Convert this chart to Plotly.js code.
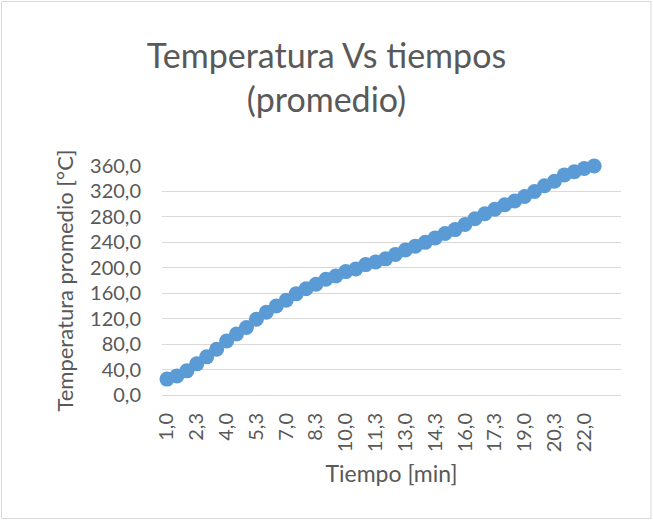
<!DOCTYPE html>
<html>
<head>
<meta charset="utf-8">
<script src="https://cdn.plot.ly/plotly-3.0.1.min.js"></script>
<style>
  html, body { margin: 0; padding: 0; background: #fff; }
  #chart { width: 653px; height: 520px; }
</style>
</head>
<body>
<div id="chart"></div>
<script>
const tiempos = ["1,0","1,3","2,0","2,3","3,0","3,3","4,0","4,3","5,0","5,3",
  "6,0","6,3","7,0","7,3","8,0","8,3","9,0","9,3","10,0","10,3",
  "11,0","11,3","12,0","12,3","13,0","13,3","14,0","14,3","15,0","15,3",
  "16,0","16,3","17,0","17,3","18,0","18,3","19,0","19,3","20,0","20,3",
  "21,0","21,3","22,0","22,3"];
const temperatura = [25,30,38,49,60,72,85,96,106,119,
  130,140,149,159,167,174,182,187,194,198,
  205,209,214,221,228,234,240,247,254,260,
  268,277,285,292,299,305,312,320,329,336,
  346,351,356,360];
const tickLabels = ["1,0","2,3","4,0","5,3","7,0","8,3","10,0","11,3","13,0","14,3","16,0","17,3","19,0","20,3","22,0"];

const FONT = "Lato, 'Open Sans', sans-serif";
const TXT = "#595959";

const trace = {
  type: "scatter",
  mode: "lines+markers",
  x: tiempos,
  y: temperatura,
  line: { color: "#5B9BD5", width: 3 },
  marker: { color: "#5B9BD5", size: 15 },
  cliponaxis: false,
  hoverinfo: "x+y"
};

const L = 162, R = 621, T = 166, B = 395, W = 653, H = 520;
const pw = R - L, ph = B - T;

const layout = {
  width: W, height: H,
  margin: { l: L, r: W - R, t: T, b: H - B, pad: 0 },
  paper_bgcolor: "#fff",
  plot_bgcolor: "#fff",
  separators: ",.",
  showlegend: false,
  font: { family: FONT, color: TXT },
  title: {
    text: "Temperatura Vs tiempos<br>(promedio)",
    font: { family: FONT, size: 34, color: TXT },
    x: 0.5, xref: "container", xanchor: "center",
    y: 1 - 68 / H, yref: "container", yanchor: "middle"
  },
  xaxis: {
    type: "category",
    categoryorder: "array",
    categoryarray: tiempos,
    range: [-0.5, 45.7],
    tickmode: "array",
    tickvals: tickLabels,
    ticktext: tickLabels,
    tickangle: -90,
    ticks: "",
    ticklabelstandoff: 9,
    tickfont: { family: FONT, size: 20, color: TXT },
    showgrid: false,
    zeroline: false,
    showline: true,
    linecolor: "#D9D9D9",
    linewidth: 1,
    fixedrange: true,
    title: { text: "Tiempo [min]", font: { family: FONT, size: 23, color: TXT }, standoff: 14 }
  },
  yaxis: {
    range: [0, 360],
    tick0: 0, dtick: 40,
    tickformat: ".1f",
    ticks: "",
    ticklabelstandoff: 20,
    tickfont: { family: FONT, size: 20, color: TXT },
    showgrid: true,
    gridcolor: "#D9D9D9",
    gridwidth: 1,
    zeroline: false,
    showline: false,
    fixedrange: true,
    title: { text: "Temperatura promedio [°C]", font: { family: FONT, size: 22, color: TXT }, standoff: 10 }
  },
  shapes: [{
    type: "rect", xref: "paper", yref: "paper", layer: "below",
    x0: (1.5 - L) / pw, x1: (651 - L) / pw,
    y0: (B - 518.5) / ph, y1: (B - 1.5) / ph,
    line: { color: "#D9D9D9", width: 1 }, fillcolor: "rgba(0,0,0,0)"
  }]
};

Plotly.newPlot("chart", [trace], layout, { displayModeBar: false, staticPlot: true });
</script>
</body>
</html>
